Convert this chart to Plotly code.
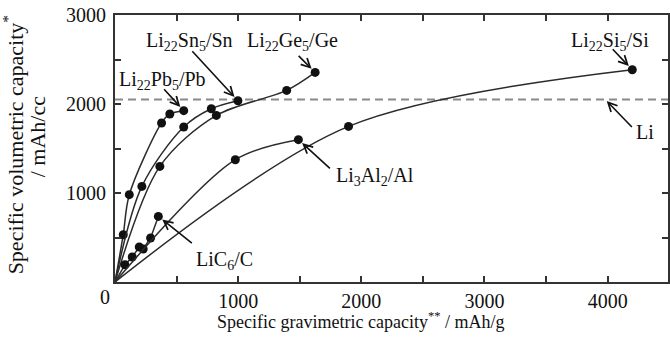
import plotly.graph_objects as go

# ---------------- data ----------------
pb_x = [0, 67, 116, 378, 445, 558]
pb_y = [0, 531, 981, 1787, 1888, 1925]

sn_x = [0, 218, 558, 782, 998]
sn_y = [0, 1074, 1742, 1947, 2037]

ge_x = [0, 364, 823, 1394, 1625]
ge_y = [0, 1299, 1872, 2153, 2355]

c_x = [0, 81, 140, 197, 229, 289, 352]
c_y = [0, 194, 281, 393, 371, 494, 737]

al_x = [0, 977, 1489]
al_y = [0, 1374, 1599]

si_x = [0, 1896, 4200]
si_y = [0, 1748, 2385]

li_y = 2050            # volumetric capacity of Li metal
li_arrow_x = 3981      # where the "Li" arrow touches the dashed line

x_tick_vals = [0, 1000, 2000, 3000, 4000]
x_tick_text = ["", "1000", "2000", "3000", "4000"]
y_tick_vals = [0, 1000, 2000, 3000]
y_tick_text = ["", "1000", "2000", "3000"]
zero_label = "0"

labels = {
    "pb": "Li<sub>22</sub>Pb<sub>5</sub>/Pb",
    "sn": "Li<sub>22</sub>Sn<sub>5</sub>/Sn",
    "ge": "Li<sub>22</sub>Ge<sub>5</sub>/Ge",
    "si": "Li<sub>22</sub>Si<sub>5</sub>/Si",
    "al": "Li<sub>3</sub>Al<sub>2</sub>/Al",
    "c": "LiC<sub>6</sub>/C",
    "li": "Li",
}
x_title = "Specific gravimetric capacity<sup>**</sup> / mAh/g"
y_title_1 = "Specific volumetric capacity<sup>*</sup>"
y_title_2 = "/ mAh/cc"

# ---------------- style / layout ----------------
W, H = 670, 345
ML, MR, MT, MB = 115, 0, 15, 63
X_RANGE = [0, 4490]
Y_RANGE = [0, 3000]
FONT = '"Liberation Serif", "Times New Roman", Times, serif'
LINE_COL = "#2b2b2b"
AXIS_COL = "#333333"

pw = W - ML - MR
ph = H - MT - MB


def px(xp, yp):
    """pixel position in the page -> paper coordinates"""
    return (xp - ML) / pw, (H - MB - yp) / ph


fig = go.Figure()

# dashed Li reference line
fig.add_trace(go.Scatter(
    x=[X_RANGE[0], X_RANGE[1]], y=[li_y, li_y], mode="lines",
    line=dict(color="#8a8a8a", width=2, dash="8px,5px"),
    hoverinfo="skip", showlegend=False, cliponaxis=False))

series = [
    (pb_x, pb_y, "spline"),
    (sn_x, sn_y, "spline"),
    (ge_x, ge_y, "spline"),
    (c_x, c_y, "linear"),
    (al_x, al_y, "spline"),
    (si_x, si_y, "spline"),
]
for xs, ys, shape in series:
    fig.add_trace(go.Scatter(
        x=xs, y=ys, mode="lines",
        line=dict(color=LINE_COL, width=1.5, shape=shape, smoothing=0.9),
        hoverinfo="skip", showlegend=False))
    fig.add_trace(go.Scatter(
        x=xs[1:], y=ys[1:], mode="markers",
        marker=dict(color="#111111", size=9),
        hoverinfo="skip", showlegend=False))

annotations = []

# arrows (head at the data point, tail offset in pixels)
arrow_specs = [
    (pb_x[-1], pb_y[-1], -21, -23, 5),
    (sn_x[-1], sn_y[-1], -47, -51, 5),
    (ge_x[-1], ge_y[-1], -18, -18, 5),
    (si_x[-1], si_y[-1], -21, -22, 5),
    (al_x[-1], al_y[-1], 33, 30, 5),
    (c_x[-1], c_y[-1], 35, 28, 5),
    (li_arrow_x, li_y, 28, 29, 2),
]
for hx, hy, ax, ay, so in arrow_specs:
    annotations.append(dict(
        x=hx, y=hy, xref="x", yref="y", ax=ax, ay=ay, text="",
        showarrow=True, arrowhead=5, arrowsize=1.1, arrowwidth=1.6,
        arrowcolor="#111111", standoff=so))

# label texts (pixel centres)
text_specs = [
    ("pb", 163, 80),
    ("sn", 190, 41),
    ("ge", 293, 41),
    ("si", 612, 41),
    ("al", 376, 177),
    ("c", 225, 260),
    ("li", 647, 132),
]
for key, xp, yp in text_specs:
    ux, uy = px(xp, yp)
    annotations.append(dict(
        x=ux, y=uy, xref="paper", yref="paper", text=labels[key],
        showarrow=False, xanchor="center", yanchor="middle",
        font=dict(family=FONT, size=20, color="#111111")))

# zero label at the corner
ux, uy = px(105, 297)
annotations.append(dict(x=ux, y=uy, xref="paper", yref="paper", text=zero_label,
                        showarrow=False, xanchor="center", yanchor="middle",
                        font=dict(family=FONT, size=20, color="#111111")))

# axis titles
ux, uy = px(362, 320)
annotations.append(dict(x=ux, y=uy, xref="paper", yref="paper", text=x_title,
                        showarrow=False, xanchor="center", yanchor="middle",
                        font=dict(family=FONT, size=18, color="#111111")))
ux, uy = px(13, 145)
annotations.append(dict(x=ux, y=uy, xref="paper", yref="paper", text=y_title_1,
                        showarrow=False, xanchor="center", yanchor="middle", textangle=-90,
                        font=dict(family=FONT, size=22, color="#111111")))
ux, uy = px(37, 137)
annotations.append(dict(x=ux, y=uy, xref="paper", yref="paper", text=y_title_2,
                        showarrow=False, xanchor="center", yanchor="middle", textangle=-90,
                        font=dict(family=FONT, size=22, color="#111111")))

axis_common = dict(
    showgrid=False, zeroline=False, showline=True, linecolor=AXIS_COL, linewidth=2,
    mirror="ticks", ticks="inside", ticklen=6, tickwidth=1.5, tickcolor=AXIS_COL,
    tickfont=dict(family=FONT, size=20, color="#111111"),
    minor=dict(dtick=500, ticks="inside", ticklen=6, tickwidth=1.5, tickcolor=AXIS_COL,
               showgrid=False),
)

fig.update_layout(
    width=W, height=H,
    margin=dict(l=ML, r=MR, t=MT, b=MB),
    paper_bgcolor="white", plot_bgcolor="white",
    showlegend=False,
    font=dict(family=FONT),
    xaxis=dict(range=X_RANGE, tickmode="array", tickvals=x_tick_vals, ticktext=x_tick_text,
               ticklabelstandoff=0, **axis_common),
    yaxis=dict(range=Y_RANGE, tickmode="array", tickvals=y_tick_vals, ticktext=y_tick_text,
               ticklabelstandoff=3, **axis_common),
    annotations=annotations,
)

fig.write_html("out.html")
